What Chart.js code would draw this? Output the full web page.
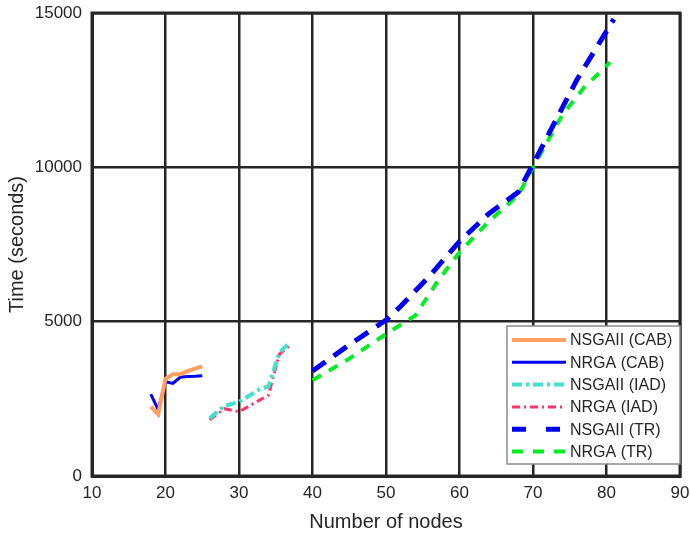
<!DOCTYPE html>
<html>
<head>
<meta charset="utf-8">
<script src="https://cdn.jsdelivr.net/npm/chart.js@4.4.1/dist/chart.umd.min.js"></script>
<style>
  html, body { margin: 0; padding: 0; background: #ffffff; }
  #wrap { width: 690px; height: 536px; }
</style>
</head>
<body>
<div id="wrap"><canvas id="c" width="690" height="536"></canvas></div>
<script>
// Run time of the two algorithms on three network families
const nodesCAB = [18, 19, 20, 21, 22, 23, 24, 25];
const nsgaCAB  = [2250, 2000, 3150, 3300, 3300, 3400, 3480, 3550];
const nrgaCAB  = [2650, 2150, 3050, 3000, 3200, 3220, 3230, 3250];

const nodesNsgaIAD = [26, 28, 30, 33, 34, 35.5, 37];
const nsgaIAD      = [1870, 2270, 2400, 2840, 2900, 4000, 4350];
const nodesNrgaIAD = [26, 28, 30, 32, 34, 35.5, 37];
const nrgaIAD      = [1820, 2180, 2080, 2350, 2620, 3950, 4250];

const nodesNsgaTR = [40, 45, 50, 52, 56, 60, 64, 68, 70, 76, 81];
const nsgaTR      = [3400, 4250, 5050, 5500, 6500, 7600, 8500, 9200, 10100, 12850, 14800];
const nodesNrgaTR = [40, 45, 50, 54, 57, 60, 64, 68, 70, 74, 77, 80.5];
const nrgaTR      = [3100, 3800, 4600, 5200, 6300, 7250, 8250, 9100, 10000, 11700, 12600, 13400];

const xTicks = [10, 20, 30, 40, 50, 60, 70, 80, 90];
const yTicks = [0, 5000, 10000, 15000];

const seriesLabels = ['NSGAII (CAB)', 'NRGA (CAB)', 'NSGAII (IAD)', 'NRGA (IAD)', 'NSGAII (TR)', 'NRGA (TR)'];

const pts = (xs, ys) => xs.map((x, i) => ({ x: x, y: ys[i] }));

const FONT = '"Liberation Sans", Arial, Helvetica, sans-serif';
const INK = '#262626';

// Box around the plot area
const framePlugin = {
  id: 'frame',
  beforeDatasetsDraw(chart) {
    const a = chart.chartArea, ctx = chart.ctx;
    ctx.save();
    ctx.strokeStyle = INK;
    ctx.lineWidth = 3;
    ctx.strokeRect(a.left, a.top, a.right - a.left, a.bottom - a.top);
    ctx.restore();
  }
};

// Legend boxed in the lower right corner of the plot
const insetLegend = {
  id: 'insetLegend',
  afterDatasetsDraw(chart) {
    const a = chart.chartArea, ctx = chart.ctx;
    const w = 173, h = 138;
    const x0 = a.right - w, y0 = a.bottom - 12 - h;
    ctx.save();
    ctx.fillStyle = '#ffffff';
    ctx.fillRect(x0, y0, w, h);
    ctx.strokeStyle = '#8c8c8c';
    ctx.lineWidth = 1.5;
    ctx.strokeRect(x0, y0, w, h);
    ctx.font = '16px ' + FONT;
    ctx.textBaseline = 'middle';
    ctx.textAlign = 'left';
    chart.data.datasets.forEach((ds, i) => {
      const y = y0 + 14 + i * 22.3;
      ctx.beginPath();
      ctx.strokeStyle = ds.borderColor;
      ctx.lineWidth = ds.borderWidth;
      ctx.setLineDash(ds.legendDash || ds.borderDash || []);
      ctx.moveTo(x0 + 5, y);
      ctx.lineTo(x0 + 59, y);
      ctx.stroke();
      ctx.setLineDash([]);
      ctx.fillStyle = INK;
      ctx.fillText(ds.label, x0 + 63, y + 1);
    });
    ctx.restore();
  }
};

// Let the layout padding alone decide the plot edges
const noEdgePadding = s => {
  s.paddingTop = 0; s.paddingBottom = 0; s.paddingLeft = 0; s.paddingRight = 0;
};

new Chart(document.getElementById('c'), {
  type: 'line',
  data: {
    datasets: [
      { label: seriesLabels[0], data: pts(nodesCAB, nsgaCAB), borderColor: '#ff9f62', borderWidth: 4 },
      { label: seriesLabels[1], data: pts(nodesCAB, nrgaCAB), borderColor: '#0000f5', borderWidth: 3 },
      { label: seriesLabels[2], data: pts(nodesNsgaIAD, nsgaIAD), borderColor: '#43e0cc', borderWidth: 4, borderDash: [10, 4, 3, 4] },
      { label: seriesLabels[3], data: pts(nodesNrgaIAD, nrgaIAD), borderColor: '#ff3366', borderWidth: 3, borderDash: [8, 4, 2, 4] },
      { label: seriesLabels[4], data: pts(nodesNsgaTR, nsgaTR), borderColor: '#0000f5', borderWidth: 5, borderDash: [16, 10], legendDash: [14, 20] },
      { label: seriesLabels[5], data: pts(nodesNrgaTR, nrgaTR), borderColor: '#00ee22', borderWidth: 4, borderDash: [10, 9], legendDash: [11, 10] }
    ]
  },
  options: {
    responsive: false,
    animation: false,
    devicePixelRatio: 1,
    layout: { padding: { top: 13, right: 10, left: 0, bottom: 0 } },
    elements: { point: { radius: 0 }, line: { tension: 0, borderCapStyle: 'butt', borderJoinStyle: 'miter' } },
    plugins: { legend: { display: false }, tooltip: { enabled: false } },
    scales: {
      x: {
        type: 'linear',
        min: xTicks[0],
        max: xTicks[xTicks.length - 1],
        afterBuildTicks: s => { s.ticks = xTicks.map(v => ({ value: v })); },
        afterFit: s => { s.height = 60; noEdgePadding(s); },
        grid: { color: INK, lineWidth: 2.5, drawTicks: false },
        border: { color: INK, width: 3 },
        ticks: { color: INK, font: { family: FONT, size: 17 }, padding: 7, maxRotation: 0, callback: v => String(v) },
        title: { display: true, text: 'Number of nodes', color: INK, font: { family: FONT, size: 20 }, padding: { top: 0, bottom: 2 } }
      },
      y: {
        min: yTicks[0],
        max: yTicks[yTicks.length - 1],
        afterBuildTicks: s => { s.ticks = yTicks.map(v => ({ value: v })); },
        afterFit: s => { s.width = 92; noEdgePadding(s); },
        grid: { color: INK, lineWidth: 2.5, drawTicks: false },
        border: { color: INK, width: 3 },
        ticks: { color: INK, font: { family: FONT, size: 17 }, padding: 10, callback: v => String(v) },
        title: { display: true, text: 'Time (seconds)', color: INK, font: { family: FONT, size: 20 }, padding: { top: 5, bottom: 0 } }
      }
    }
  },
  plugins: [framePlugin, insetLegend]
});
</script>
</body>
</html>
